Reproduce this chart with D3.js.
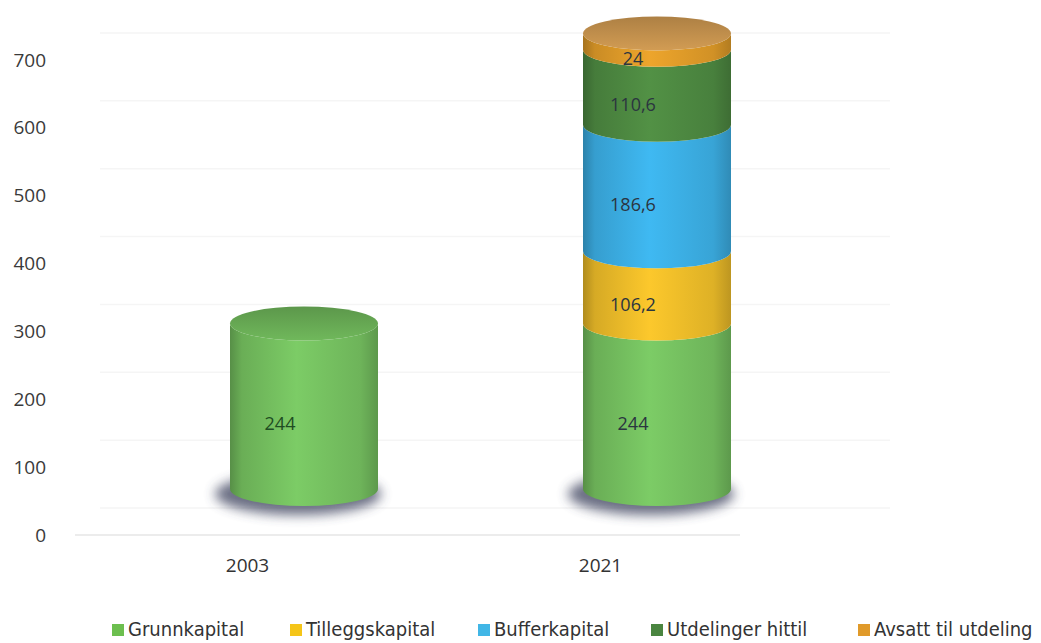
<!DOCTYPE html>
<html>
<head>
<meta charset="utf-8">
<script src="https://cdn.jsdelivr.net/npm/d3@7"></script>
<style>
  body { margin: 0; background: #fff; }
  svg { display: block; }
</style>
</head>
<body>
<script>
// Categories and series
var years = ["2003", "2021"];
var keys = ["Grunnkapital", "Tilleggskapital", "Bufferkapital", "Utdelinger hittil", "Avsatt til utdeling"];

// Values per year (same order as years)
var grunnkapital = [244, 244];
var tilleggskapital = [0, 106.2];
var bufferkapital = [0, 186.6];
var utdelinger = [0, 110.6];
var avsatt = [0, 24];

var yTicks = [0, 100, 200, 300, 400, 500, 600, 700];
var colors = ["#78c562", "#f3c12a", "#3db3ea", "#4f8c43", "#e59f2a"];
var legendColors = ["#6cbf4f", "#f5c518", "#41b6e6", "#4a8540", "#e09a2a"];

var width = 1041, height = 643;

// Build the table for d3.stack
var table = years.map(function(y, i) {
  return {
    year: y,
    "Grunnkapital": grunnkapital[i],
    "Tilleggskapital": tilleggskapital[i],
    "Bufferkapital": bufferkapital[i],
    "Utdelinger hittil": utdelinger[i],
    "Avsatt til utdeling": avsatt[i]
  };
});
var stacked = d3.stack().keys(keys)(table);

var svg = d3.select("body").append("svg")
    .attr("width", width)
    .attr("height", height);

var x = d3.scalePoint().domain(years).range([247, 600]);
var y = d3.scaleLinear().domain([0, 700]).range([535, 60]);

// 3D offsets: bars sit in front of the back wall
var dx = 57, dy = -46;
var rx = 74, ry = 17;

var defs = svg.append("defs");

keys.forEach(function(k, i) {
  var c = d3.color(colors[i]);
  var g = defs.append("linearGradient").attr("id", "side" + i)
      .attr("x1", "0%").attr("x2", "100%").attr("y1", "0%").attr("y2", "0%");
  g.append("stop").attr("offset", "0%").attr("stop-color", c.darker(0.9));
  g.append("stop").attr("offset", "8%").attr("stop-color", c.darker(0.35));
  g.append("stop").attr("offset", "45%").attr("stop-color", c.brighter(0.1));
  g.append("stop").attr("offset", "88%").attr("stop-color", c.darker(0.25));
  g.append("stop").attr("offset", "100%").attr("stop-color", c.darker(0.7));

  var t = defs.append("linearGradient").attr("id", "top" + i)
      .attr("x1", "0%").attr("x2", "0%").attr("y1", "0%").attr("y2", "100%");
  var tc = i == 4 ? d3.color("#c08f4c") : c.darker(0.45);
  t.append("stop").attr("offset", "0%").attr("stop-color", d3.color(tc).darker(0.3));
  t.append("stop").attr("offset", "100%").attr("stop-color", d3.color(tc).brighter(0.25));
});

var blur = defs.append("filter").attr("id", "blur")
    .attr("x", "-50%").attr("y", "-100%").attr("width", "200%").attr("height", "300%");
blur.append("feGaussianBlur").attr("stdDeviation", 6);

// Faint back wall gridlines
svg.append("g")
  .selectAll("line")
  .data(yTicks)
  .enter().append("line")
    .attr("x1", 100).attr("x2", 890)
    .attr("y1", function(d) { return y(d) - 27; })
    .attr("y2", function(d) { return y(d) - 27; })
    .attr("stroke", "#f5f5f5")
    .attr("stroke-width", 1.5);

// Floor front edge
svg.append("line")
    .attr("x1", 75).attr("x2", 740)
    .attr("y1", y(0)).attr("y2", y(0))
    .attr("stroke", "#ececec").attr("stroke-width", 2);

// Y axis
var yAxis = svg.append("g")
    .attr("transform", "translate(46,0)")
    .call(d3.axisLeft(y).tickValues(yTicks).tickSize(0).tickPadding(0));
yAxis.select(".domain").remove();
yAxis.selectAll("text")
    .style("font-family", "'Open Sans', sans-serif")
    .style("font-size", "19px")
    .attr("fill", "#3a3a3a");

// X axis
var xAxis = svg.append("g")
    .attr("transform", "translate(0,555)")
    .call(d3.axisBottom(x).tickSize(0).tickPadding(3));
xAxis.select(".domain").remove();
xAxis.selectAll("text")
    .style("font-family", "'Open Sans', sans-serif")
    .style("font-size", "19px")
    .attr("fill", "#333");

// Shadows under the cylinders
svg.append("g")
  .selectAll("ellipse")
  .data(years)
  .enter().append("ellipse")
    .attr("cx", function(d) { return x(d) + dx - 6; })
    .attr("cy", y(0) + dy + 5)
    .attr("rx", rx + 9)
    .attr("ry", ry + 4)
    .attr("fill", "#3a3f5c")
    .attr("opacity", 0.75)
    .attr("filter", "url(#blur)");

// Cylinder segment (front half band)
function band(cx, y0, y1) {
  return "M" + (cx - rx) + "," + y1 +
    " L" + (cx - rx) + "," + y0 +
    " A" + rx + "," + ry + " 0 0 0 " + (cx + rx) + "," + y0 +
    " L" + (cx + rx) + "," + y1 +
    " A" + rx + "," + ry + " 0 0 1 " + (cx - rx) + "," + y1 + "Z";
}

var fmt = function(v) { return String(v).replace(".", ","); };

stacked.forEach(function(layer, i) {
  layer.forEach(function(d) {
    if (d[1] - d[0] <= 0) return;
    var cx = x(d.data.year) + dx;
    svg.append("path")
        .attr("d", band(cx, y(d[0]) + dy, y(d[1]) + dy))
        .attr("fill", "url(#side" + i + ")");
  });
});

// Top caps
years.forEach(function(yr, j) {
  var topIdx = 0, topVal = 0;
  stacked.forEach(function(layer, i) {
    if (layer[j][1] - layer[j][0] > 0) { topIdx = i; topVal = layer[j][1]; }
  });
  svg.append("ellipse")
      .attr("cx", x(yr) + dx)
      .attr("cy", y(topVal) + dy)
      .attr("rx", rx)
      .attr("ry", ry)
      .attr("fill", "url(#top" + topIdx + ")");
});

// Data labels
stacked.forEach(function(layer, i) {
  layer.forEach(function(d, j) {
    var v = d[1] - d[0];
    if (v <= 0) return;
    svg.append("text")
        .attr("x", x(d.data.year) + dx - 24)
        .attr("y", y((d[0] + d[1]) / 2) + dy + 17)
        .attr("dy", "0.35em")
        .attr("text-anchor", "middle")
        .style("font-family", "'Open Sans', sans-serif")
        .style("font-size", "18px")
        .attr("fill", j == 0 ? "#1f4d22" : "#2b3540")
        .text(fmt(+v.toFixed(1)));
  });
});

// Legend
var legendX = [112, 290, 478, 651, 858];
var legend = svg.append("g")
  .selectAll("g")
  .data(keys)
  .enter().append("g")
    .attr("transform", function(d, i) { return "translate(" + legendX[i] + ",629)"; });

legend.append("rect")
    .attr("x", 0).attr("y", -5)
    .attr("width", 12).attr("height", 12)
    .attr("fill", function(d, i) { return legendColors[i]; });

legend.append("text")
    .attr("x", 16)
    .attr("dy", "0.35em")
    .style("font-family", "'Liberation Sans Narrow', 'DejaVu Sans Condensed', sans-serif")
    .style("font-size", "20px")
    .attr("fill", "#333")
    .text(function(d) { return d; });
</script>
</body>
</html>
